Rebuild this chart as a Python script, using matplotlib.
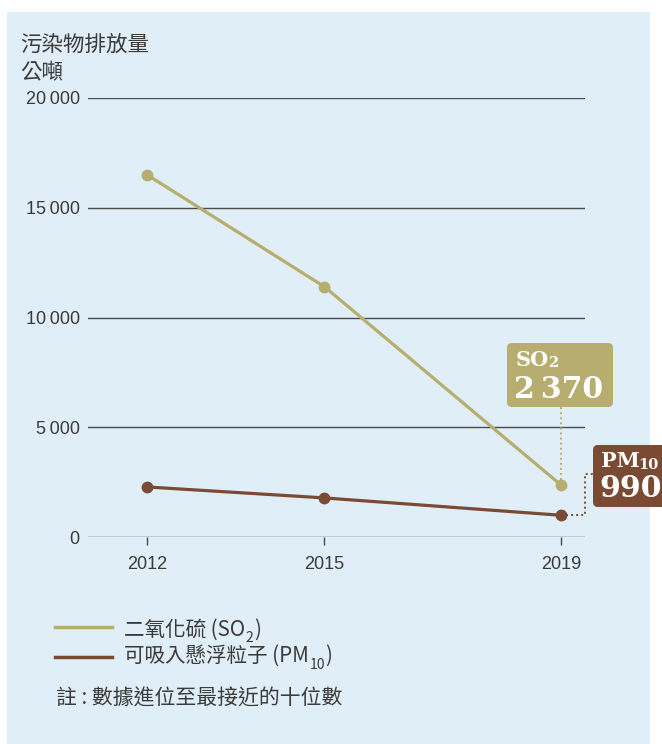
import matplotlib
matplotlib.use('Agg')
import matplotlib.pyplot as plt
from matplotlib.patches import Rectangle, FancyBboxPatch
from matplotlib.lines import Line2D
from matplotlib.transforms import IdentityTransform

plt.rcParams['font.family'] = ['Noto Sans CJK TC', 'DejaVu Sans']

# data
years = [2012, 2015, 2019]
so2 = [16500, 11400, 2370]
pm10 = [2280, 1780, 990]
y_ticks = [0, 5000, 10000, 15000, 20000]
y_labels = ['0', '5\u2009000', '10\u2009000', '15\u2009000', '20\u2009000']
title_lines = ['污染物排放量', '公噸']
so2_name = '二氧化硫 (SO'
pm10_name = '可吸入懸浮粒子 (PM'
note = '註 : 數據進位至最接近的十位數'
so2_value = '2\u2009370'
pm10_value = '990'

W, H = 662, 744
BG = '#e0eff7'
SO2_C = '#b7ad6e'
PM_C = '#7a4a33'
TXT = '#3a3a3a'
GRID = '#4a4a4a'
LATIN = ['Liberation Sans', 'DejaVu Sans']
SERIF = ['DejaVu Serif', 'DejaVu Sans']

fig = plt.figure(figsize=(W / 100, H / 100), dpi=100)
fig.patch.set_facecolor('white')
px = IdentityTransform()
renderer = fig.canvas.get_renderer()


def P(x, y):
    # pixel position measured from the top-left corner
    return x, H - y


fig.add_artist(Rectangle(P(7, 744), 643, 732, transform=px,
                         facecolor=BG, edgecolor='none', zorder=0))

ax = fig.add_axes([88 / W, (H - 537) / H, 497 / W, 439 / H])
ax.patch.set_visible(False)
ax.set_xlim(2011, 2019 + 24 / 59)
ax.set_ylim(0, 20000)
for s in ax.spines.values():
    s.set_visible(False)
for v in y_ticks:
    ax.axhline(v, color=GRID, lw=1, zorder=1)

ax.set_yticks(y_ticks, y_labels)
ax.tick_params(axis='y', length=0, pad=6, labelsize=13, labelcolor=TXT)
ax.set_xticks(years, [str(y) for y in years])
ax.tick_params(axis='x', length=6, width=1, color=GRID, pad=8,
               labelsize=13, labelcolor=TXT)
for lab in ax.get_yticklabels() + ax.get_xticklabels():
    lab.set_fontfamily(LATIN)

ax.plot(years, so2, color=SO2_C, lw=2.3, marker='o', ms=7.5,
        clip_on=False, zorder=3)
ax.plot(years, pm10, color=PM_C, lw=2.3, marker='o', ms=7.5,
        clip_on=False, zorder=3)

# leaders from the last points to the value boxes
inv = ax.transData.inverted()
_, so2_top = inv.transform(P(0, 407))
pm_x1, pm_y1 = inv.transform(P(585, 474))
pm_x2, _ = inv.transform(P(593, 474))
dots = (0, (1, 1.6))
ax.plot([years[-1], years[-1]], [so2[-1], so2_top], color=SO2_C, lw=1.4,
        ls=dots, clip_on=False, zorder=2)
ax.plot([years[-1], pm_x1, pm_x1, pm_x2], [pm10[-1], pm10[-1], pm_y1, pm_y1],
        color=PM_C, lw=1.4, ls=dots, clip_on=False, zorder=2)

fig.add_artist(FancyBboxPatch(P(507, 407), 106, 64, transform=px,
                              boxstyle='round,pad=0,rounding_size=5',
                              facecolor=SO2_C, edgecolor='none', zorder=4))
fig.add_artist(FancyBboxPatch(P(593, 507), 90, 62, transform=px,
                              boxstyle='round,pad=0,rounding_size=5',
                              facecolor=PM_C, edgecolor='none', zorder=4))


def sub_text(x, y, main, sub, tail, size, subsize, drop, color, family,
             weight='normal', gap=0.5):
    t = fig.text(*P(x, y), main, transform=px, fontsize=size, color=color,
                 family=family, weight=weight, va='baseline', zorder=5)
    x1 = t.get_window_extent(renderer).x1
    t2 = fig.text(x1 + gap, H - y - drop, sub, transform=px, fontsize=subsize,
                  color=color, family=family, weight=weight, va='baseline',
                  zorder=5)
    if tail:
        x2 = t2.get_window_extent(renderer).x1
        fig.text(x2 + 0.5, H - y, tail, transform=px, fontsize=size,
                 color=color, family=family, weight=weight, va='baseline',
                 zorder=5)


sub_text(516, 366, 'SO', '2', '', 15, 10.5, 1, 'white', SERIF, 'bold', -1.5)
fig.text(*P(514, 398), so2_value, transform=px, fontsize=21.5, color='white',
         family=SERIF, weight='bold', va='baseline', zorder=5)
sub_text(601, 467, 'PM', '10', '', 15, 10.5, 2, 'white', SERIF, 'bold', -1)
fig.text(*P(599, 497), pm10_value, transform=px, fontsize=21.5, color='white',
         family=SERIF, weight='bold', va='baseline', zorder=5)

# title
fig.text(*P(20, 51), title_lines[0], transform=px, fontsize=15.5, color=TXT,
         va='baseline')
fig.text(*P(20, 79), title_lines[1], transform=px, fontsize=15.5, color=TXT,
         va='baseline')

# legend
fig.add_artist(Line2D([55, 112], [H - 627, H - 627], transform=px,
                      color=SO2_C, lw=2.5))
fig.add_artist(Line2D([55, 112], [H - 657, H - 657], transform=px,
                      color=PM_C, lw=2.5))
sub_text(124, 636, so2_name, '2', ')', 14.8, 10, 6, TXT,
         ['Noto Sans CJK TC', 'DejaVu Sans'])
sub_text(124, 662, pm10_name, '10', ')', 14.8, 10, 7, TXT,
         ['Noto Sans CJK TC', 'DejaVu Sans'])
fig.text(*P(56, 705), note, transform=px, fontsize=15, color=TXT,
         va='baseline')

fig.savefig('out.png', dpi=100)
